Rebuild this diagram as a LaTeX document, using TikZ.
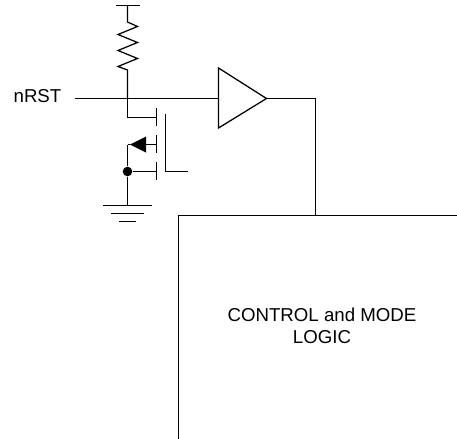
\documentclass[tikz,border=0pt]{standalone}
\usepackage{fontspec}
\setmainfont{Liberation Sans}
\usetikzlibrary{positioning}
\usetikzlibrary{calc}

\begin{document}
\begin{tikzpicture}[x=0.75pt,y=-0.75pt,line width=0.95pt,font=\fontsize{14}{16.5}\selectfont]
\useasboundingbox (0,0) rectangle (457,439);
\coordinate (topL) at (116,5.5);
\coordinate (topR) at (139.5,5.5);
\coordinate (top) at (127.5,5.5);
\coordinate (resIn) at (127.5,22);
\coordinate (resOut) at (127.5,70);
\coordinate (in) at (127.5,98.5);
\coordinate (drain) at (127.5,117.5);
\coordinate (gateD) at (156.5,117.5);
\coordinate (gateS) at (156.5,144.5);
\coordinate (source) at (127.5,144.5);
\coordinate (tip) at (130,144.5);
\coordinate (base) at (146,144.5);
\coordinate (gateB) at (156.5,171.5);
\coordinate (gateTop) at (165.5,114);
\coordinate (gateBot) at (165.5,171.5);
\coordinate (gateEnd) at (188,171.5);
\coordinate (gnd) at (127.5,205);
\coordinate (bufA) at (218.5,68);
\coordinate (bufB) at (218.5,128);
\coordinate (bufIn) at (218.5,98.5);
\coordinate (bufOut) at (266.5,98.5);
\coordinate (bend) at (315.5,98.5);
\coordinate (logicIn) at (315.5,215.5);
\coordinate (boxC) at (178.5,215.5);
\coordinate (boxR) at (457,215.5);
\coordinate (boxB) at (178.5,439);
\node[inner xsep=9.4pt,inner ysep=0pt](nRST) at (37.5,96.5){nRST};
\node[align=center,inner sep=0pt](logic) at (322,326){CONTROL and MODE\\LOGIC};
\node[circle,fill=black,inner sep=0pt,minimum size=7.2pt](dot) at (127.5,171.5){};

% pull-up
\draw (topL) -- (topR);
\draw (top) -- (resIn) -- (137.5,26.5) -- (118,34.5) -- (137.5,42.5) -- (118,50.5) -- (137.5,58.5) -- (118,66.5) -- (resOut) -- (in);

% mosfet
\draw (in) -- (drain) -- (gateD);
\draw (156.5,108) -- (156.5,126);
\draw (156.5,135) -- (156.5,153);
\draw (156.5,162) -- (156.5,180);
\draw (gateTop) -- (gateBot) -- (gateEnd);
\draw (gateS) -- (base);
\fill (tip) -- (146,136.5) -- (146,152.5) -- cycle;
\draw (gateB) -- (dot);
\draw (source) -- (tip);
\draw (source) -- (dot);
\draw (dot) -- (gnd);

% ground
\draw (103,205.5) -- (152,205.5);
\draw (111,213.5) -- (144,213.5);
\draw (119,221.5) -- (136,221.5);

% buffer
\draw (nRST.east |- bufIn) -- (bufIn);
\draw (bufA) -- (bufB) -- (bufOut) -- cycle;
\draw (bufOut) -- (bend) -- (logicIn);
\draw (boxB) -- (boxC) -- (boxR);
\end{tikzpicture}
\end{document}
